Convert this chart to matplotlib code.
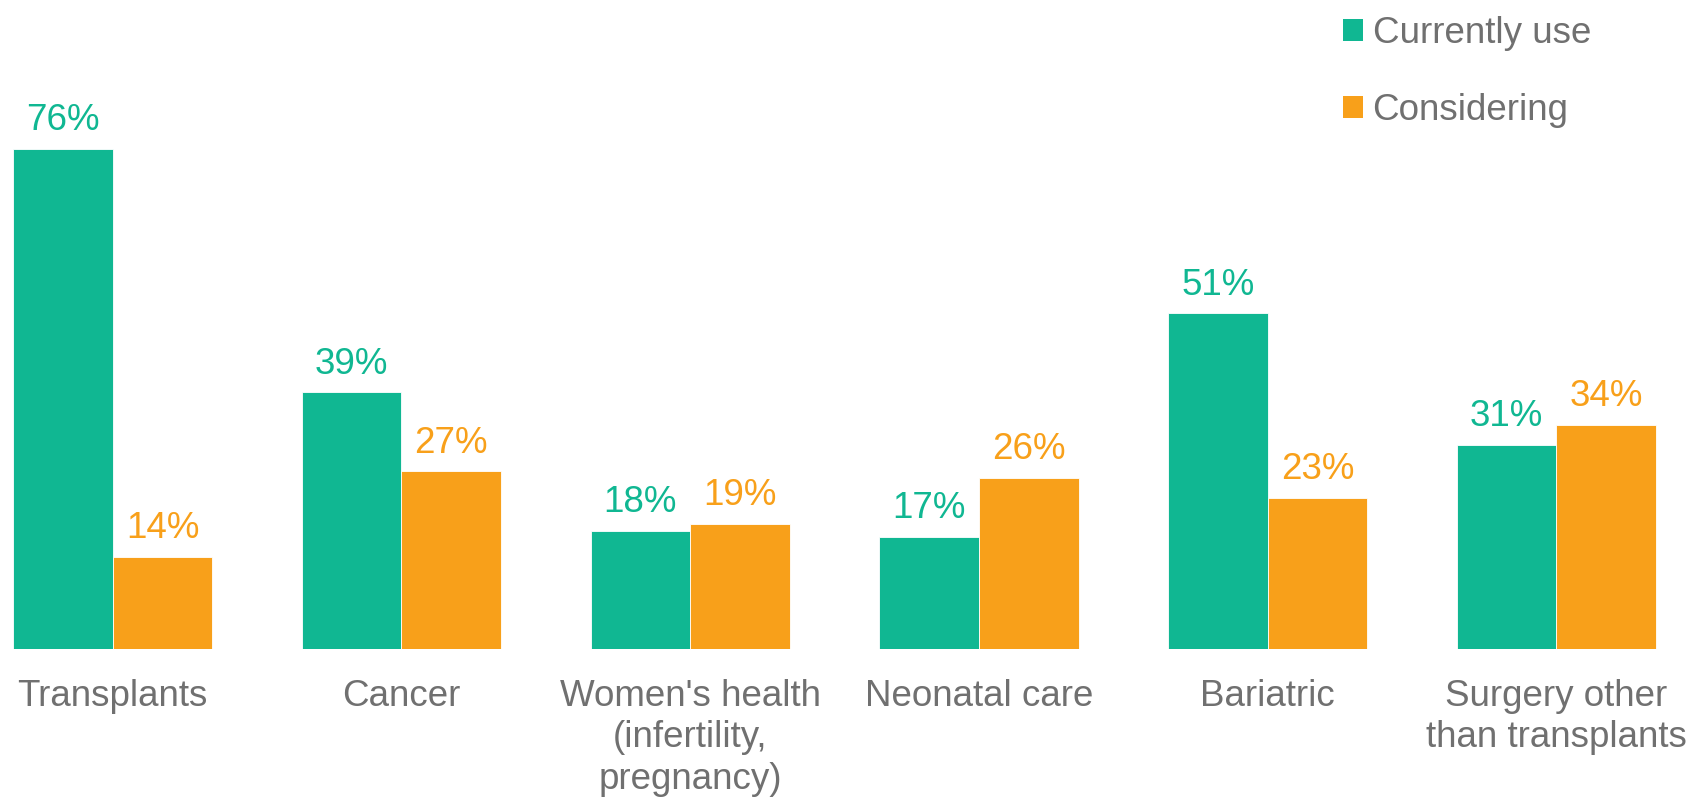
import matplotlib.pyplot as plt
import numpy as np
from matplotlib.patches import Patch

plt.rcParams['font.family'] = ['Liberation Sans', 'DejaVu Sans']

# --- data ---
categories = [
    "Transplants",
    "Cancer",
    "Women's health\n(infertility,\npregnancy)",
    "Neonatal care",
    "Bariatric",
    "Surgery other\nthan transplants",
]
currently_use = [76, 39, 18, 17, 51, 31]
considering = [14, 27, 19, 26, 23, 34]
series_names = ["Currently use", "Considering"]

GREEN = "#10B792"
ORANGE = "#F8A01A"
GREY = "#707070"

fig = plt.figure(figsize=(16.92, 7.97), dpi=100)
ax = fig.add_axes([0, 0.1857, 1, 0.8143])

x = np.arange(len(categories))
w = 0.345

b1 = ax.bar(x - w / 2, currently_use, w, color=GREEN, edgecolor="white", linewidth=0.6)
b2 = ax.bar(x + w / 2, considering, w, color=ORANGE, edgecolor="white", linewidth=0.6)

# value labels above each bar
for bars, vals, col in [(b1, currently_use, GREEN), (b2, considering, ORANGE)]:
    for rect, v in zip(bars, vals):
        ax.annotate(f"{v}%", (rect.get_x() + rect.get_width() / 2, v),
                    xytext=(0, 13.5), textcoords="offset points",
                    ha="center", va="baseline", fontsize=26.5, color=col)

ax.set_xlim(-0.3907, 5.470)
ax.set_ylim(0, 98.6)
ax.set_xticks(x)
ax.set_xticklabels(categories, fontsize=26.5, color=GREY, linespacing=1.24)
ax.tick_params(axis="x", length=0, pad=21.5)
ax.set_yticks([])
for s in ax.spines.values():
    s.set_visible(False)

handles = [Patch(facecolor=GREEN), Patch(facecolor=ORANGE)]
leg = fig.legend(handles, series_names, loc="upper left",
                 bbox_to_anchor=(1328 / 1692, 1 - 1 / 797),
                 frameon=False, fontsize=26.5, handlelength=0.56, handleheight=0.56,
                 handletextpad=0.25, labelspacing=1.15, borderaxespad=0)
for t in leg.get_texts():
    t.set_color(GREY)

fig.savefig("out.png", dpi=100)
